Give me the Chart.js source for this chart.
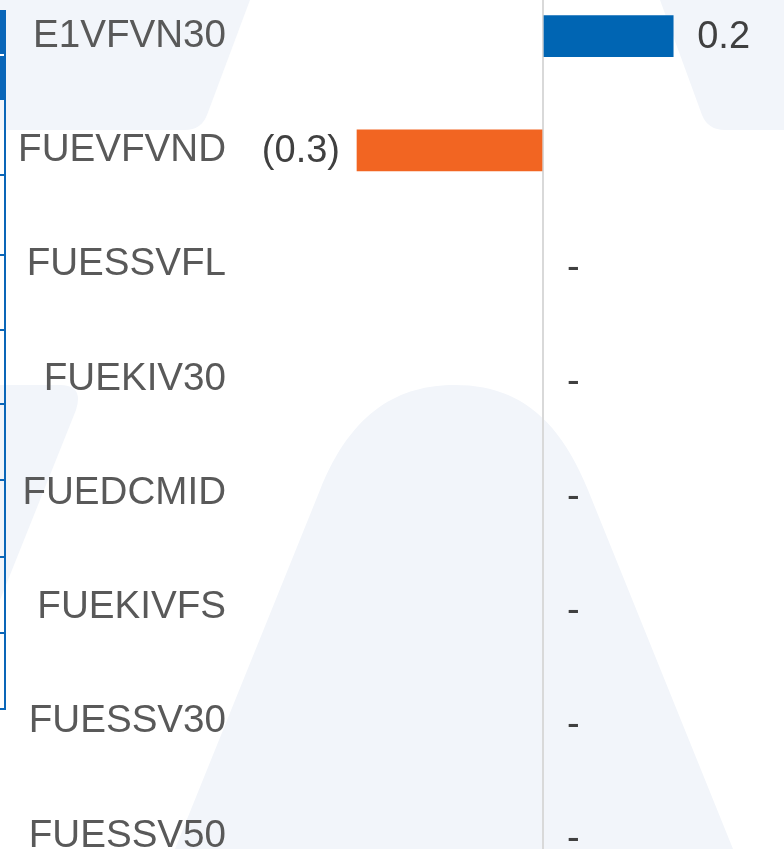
<!DOCTYPE html>
<html>
<head>
<meta charset="utf-8">
<script src="https://cdn.jsdelivr.net/npm/chart.js@4"></script>
<style>
  html, body { margin: 0; padding: 0; background: #fff; overflow: hidden; }
  body { width: 784px; height: 849px; position: relative; }
  #bg { position: absolute; left: 0; top: 0; }
  #wrap { position: absolute; left: 0; top: -21px; width: 784px; height: 914px; }
  .tb { position: absolute; background: #0a66b8; }
</style>
</head>
<body>
<svg id="bg" width="784" height="849">
  <g fill="#f2f5fa">
    <path d="M0,0 L250,0 L207,115 Q201,130 185,130 L0,130 Z"/>
    <path d="M660,0 L784,0 L784,130 L725,130 Q708,130 702,115 Z"/>
    <path d="M0,385 L60,385 Q84,385 76,410 L0,600 Z"/>
    <path d="M175,849 L320,490 C352,410 400,385 455,385 C510,385 556,410 588,490 L733,849 Z"/>
  </g>
</svg>
<!-- edge of the neighbouring table -->
<div class="tb" style="left:0;top:10px;width:6px;height:90px"></div>
<div style="position:absolute;left:0;top:54px;width:4px;height:2px;background:#fff"></div>
<div class="tb" style="left:4px;top:10px;width:2px;height:700px"></div>
<div class="tb" style="left:0;top:174px;width:6px;height:2px"></div>
<div class="tb" style="left:0;top:254px;width:6px;height:2px"></div>
<div class="tb" style="left:0;top:329px;width:6px;height:2px"></div>
<div class="tb" style="left:0;top:403px;width:6px;height:2px"></div>
<div class="tb" style="left:0;top:479px;width:6px;height:2px"></div>
<div class="tb" style="left:0;top:556px;width:6px;height:2px"></div>
<div class="tb" style="left:0;top:632px;width:6px;height:2px"></div>
<div class="tb" style="left:0;top:708px;width:6px;height:2px"></div>

<div id="wrap"><canvas id="chart"></canvas></div>

<script>
const categories = ["E1VFVN30", "FUEVFVND", "FUESSVFL", "FUEKIV30", "FUEDCMID", "FUEKIVFS", "FUESSV30", "FUESSV50"];
const values = [0.21, -0.3, 0, 0, 0, 0, 0, 0];

const xMin = -0.4887;
const xMax = 0.3887;

const BLUE = "#0065b3";
const ORANGE = "#f26522";
const FONT = "'Liberation Sans', Arial, sans-serif";

function fmt(v) {
  if (v === 0) return "-";
  if (v < 0) return "(" + Math.abs(v).toFixed(1) + ")";
  return v.toFixed(1);
}

// value labels next to each bar
const valueLabels = {
  id: "valueLabels",
  afterDatasetsDraw(chart) {
    const ctx = chart.ctx;
    const meta = chart.getDatasetMeta(0);
    const zero = chart.scales.x.getPixelForValue(0);
    ctx.save();
    ctx.font = "38px " + FONT;
    ctx.fillStyle = "#404040";
    ctx.textBaseline = "middle";
    meta.data.forEach((bar, i) => {
      const v = values[i];
      if (v < 0) {
        ctx.textAlign = "right";
        ctx.fillText(fmt(v), bar.x - 17, bar.y + 1);
      } else if (v > 0) {
        ctx.textAlign = "left";
        ctx.fillText(fmt(v), bar.x + 24, bar.y + 1);
      } else {
        ctx.textAlign = "left";
        ctx.fillText(fmt(v), zero + 24, bar.y + 4);
      }
    });
    ctx.restore();
  }
};

new Chart(document.getElementById("chart"), {
  type: "bar",
  data: {
    labels: categories,
    datasets: [{
      data: values,
      backgroundColor: values.map(v => v < 0 ? ORANGE : v > 0 ? BLUE : "rgba(0,0,0,0)"),
      barThickness: 41,
      borderWidth: 0
    }]
  },
  options: {
    indexAxis: "y",
    responsive: true,
    maintainAspectRatio: false,
    animation: false,
    layout: { padding: 0 },
    plugins: {
      legend: { display: false },
      tooltip: { enabled: false }
    },
    scales: {
      x: {
        min: xMin,
        max: xMax,
        afterBuildTicks: s => { s.ticks = [{ value: 0 }]; },
        afterFit: s => { s.height = 0; s.paddingLeft = 0; s.paddingRight = 0; },
        ticks: { display: false },
        border: { display: false },
        grid: { color: "#d9d9d9", lineWidth: 2, drawTicks: false }
      },
      y: {
        afterFit: s => { s.width = 240; s.paddingTop = 0; s.paddingBottom = 0; },
        border: { display: false },
        grid: { display: false, drawTicks: false },
        ticks: {
          padding: 14,
          color: "#595959",
          font: { family: FONT, size: 38.6 }
        }
      }
    }
  },
  plugins: [valueLabels]
});
</script>
</body>
</html>
